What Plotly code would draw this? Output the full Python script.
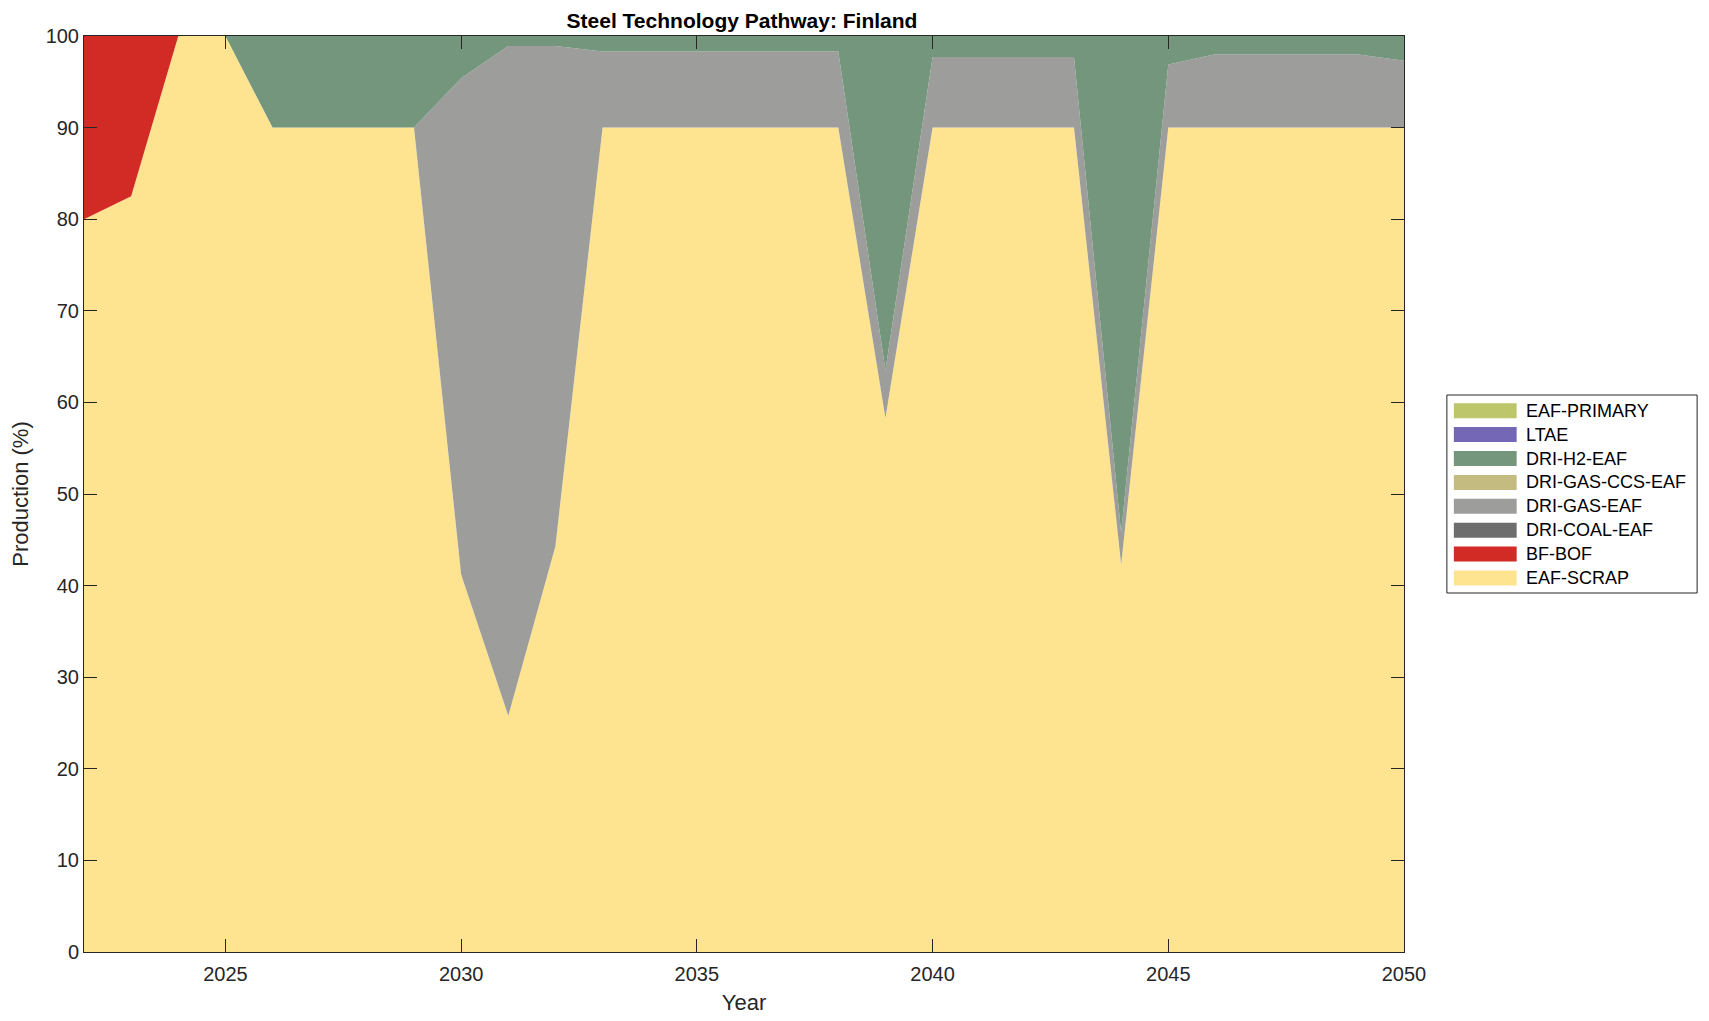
import plotly.graph_objects as go

years = list(range(2022, 2051))

eaf_scrap = [80, 82.5, 100, 100, 90, 90, 90, 90, 41.2, 25.8, 44.3, 90, 90, 90, 90, 90, 90,
             58.3, 90, 90, 90, 90, 42.3, 90, 90, 90, 90, 90, 90]
bf_bof = [20, 17.5] + [0] * 27
dri_coal_eaf = [0] * 29
dri_gas_eaf = [0, 0, 0, 0, 0, 0, 0, 0, 54.2, 73.1, 54.6, 8.3, 8.3, 8.3, 8.3, 8.3, 8.3,
               5.2, 7.7, 7.7, 7.7, 7.7, 3.5, 6.9, 8.0, 8.0, 8.0, 8.0, 7.3]
dri_gas_ccs_eaf = [0] * 29
dri_h2_eaf = [0, 0, 0, 0, 10, 10, 10, 10, 4.6, 1.1, 1.1, 1.7, 1.7, 1.7, 1.7, 1.7, 1.7,
              36.5, 2.3, 2.3, 2.3, 2.3, 54.2, 3.1, 2.0, 2.0, 2.0, 2.0, 2.7]
ltae = [0] * 29
eaf_primary = [0] * 29

series = [
    ("EAF-SCRAP", eaf_scrap, "#FEE391"),
    ("BF-BOF", bf_bof, "#D22B25"),
    ("DRI-COAL-EAF", dri_coal_eaf, "#6E6E6E"),
    ("DRI-GAS-EAF", dri_gas_eaf, "#9D9D9B"),
    ("DRI-GAS-CCS-EAF", dri_gas_ccs_eaf, "#C4BB80"),
    ("DRI-H2-EAF", dri_h2_eaf, "#74967D"),
    ("LTAE", ltae, "#7467B6"),
    ("EAF-PRIMARY", eaf_primary, "#BDC66A"),
]

fig = go.Figure()
for name, vals, col in series:
    fig.add_trace(go.Scatter(
        x=years, y=vals, name=name, mode="lines",
        stackgroup="one", line=dict(width=0, color=col),
        fillcolor=col, hoverinfo="x+y+name", showlegend=False,
    ))

axis_col = "#262626"
font_fam = "Liberation Sans, Arial, Helvetica, sans-serif"

# plot area geometry (screen px) used to place the hand-built legend box
W, H = 1709, 1021
PL, PR, PT, PB = 80, 1404, 36, 952
PW, PH = PR - PL, PB - PT


def px_x(p):
    return (p - PL) / PW


def px_y(p):
    return (PB - p) / PH


shapes = []
annotations = []
# legend frame
shapes.append(dict(type="rect", xref="paper", yref="paper",
                   x0=px_x(1447), x1=px_x(1698), y0=px_y(593), y1=px_y(395),
                   line=dict(color=axis_col, width=1), fillcolor="white", layer="above"))
row0, row_gap, sw_h = 410.7, 23.9, 15
for i, (name, vals, col) in enumerate(reversed(series)):
    cy = row0 + i * row_gap
    shapes.append(dict(type="rect", xref="paper", yref="paper",
                       x0=px_x(1454), x1=px_x(1517),
                       y0=px_y(cy + sw_h / 2), y1=px_y(cy - sw_h / 2),
                       line=dict(width=0), fillcolor=col, layer="above"))
    annotations.append(dict(text=name, xref="paper", yref="paper",
                            x=px_x(1524), y=px_y(cy), xanchor="left", yanchor="middle",
                            showarrow=False,
                            font=dict(family=font_fam, size=18, color="black")))

off = 8  # page body margin
fig.update_layout(
    width=W, height=H,
    margin=dict(l=PL - off, r=W - PR + off, t=PT - off, b=H - PB + off),
    paper_bgcolor="white", plot_bgcolor="white",
    font=dict(family=font_fam, size=20, color=axis_col),
    title=dict(text="<b>Steel Technology Pathway: Finland</b>",
               x=(PL + PW / 2 - off) / W, xanchor="center",
               y=1 - (21 - off) / H, yanchor="middle",
               font=dict(family=font_fam, size=21, color="black")),
    shapes=shapes, annotations=annotations,
    showlegend=False,
)

fig.update_xaxes(
    range=[2022, 2050], tickvals=[2025, 2030, 2035, 2040, 2045, 2050],
    ticks="inside", ticklen=13, tickcolor=axis_col, showline=True, linecolor=axis_col,
    linewidth=1, mirror="ticks", showgrid=False, zeroline=False,
    ticklabelstandoff=4,
    title=dict(text="Year", font=dict(size=22, color=axis_col), standoff=10),
    tickfont=dict(size=20, color=axis_col),
)
fig.update_yaxes(
    range=[0, 100], tickvals=list(range(0, 101, 10)),
    ticks="inside", ticklen=13, tickcolor=axis_col, showline=True, linecolor=axis_col,
    linewidth=1, mirror="ticks", showgrid=False, zeroline=False,
    title=dict(text="Production (%)", font=dict(size=22, color=axis_col), standoff=10),
    tickfont=dict(size=20, color=axis_col),
)

fig.write_html("out.html")
